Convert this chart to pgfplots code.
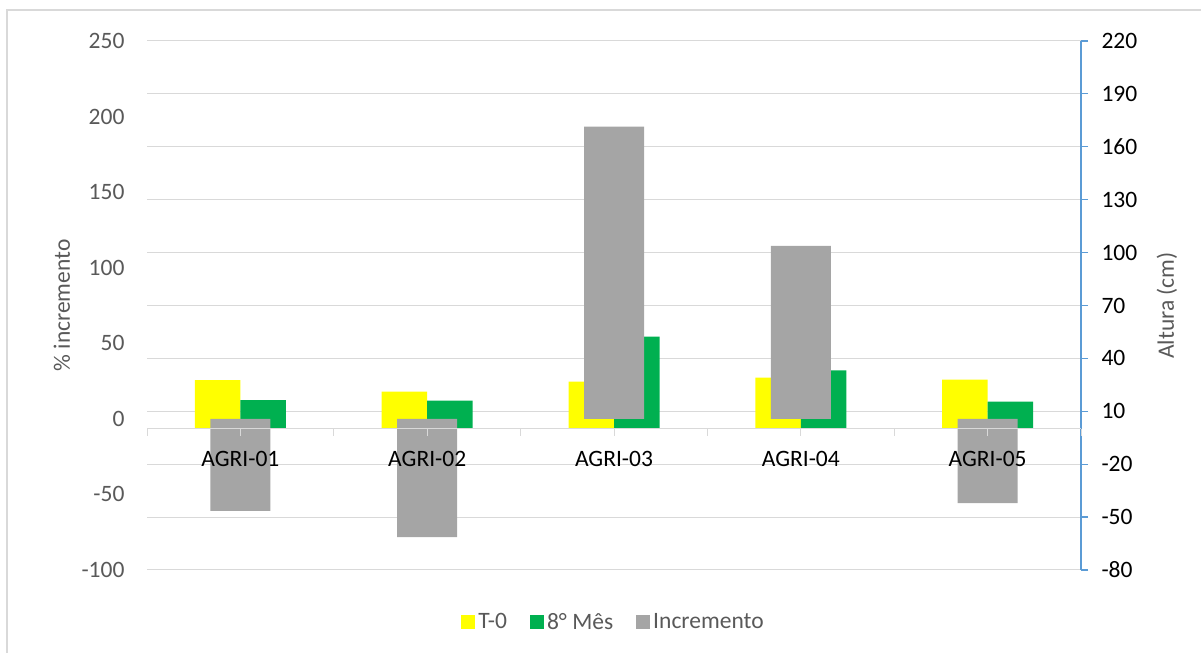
\documentclass[border=0pt]{standalone}
\usepackage{fontspec}
\setmainfont{Carlito}
\usepackage{pgfplots}
\pgfplotsset{compat=1.18}

\definecolor{tyellow}{HTML}{FFFF00}
\definecolor{mgreen}{HTML}{00B050}
\definecolor{igray}{HTML}{A5A5A5}
\definecolor{gridc}{HTML}{D9D9D9}
\definecolor{txtc}{HTML}{595959}
\definecolor{axblue}{HTML}{5B9BD5}

\newcommand{\cf}{\fontsize{23.5bp}{28bp}\selectfont}

\pgfplotsset{
  base/.style={
    scale only axis, width=934bp, height=529bp,
    at={(147bp,83bp)}, anchor=south west,
    xmin=-0.5, xmax=4.5,
    xtick=\empty,
    font=\cf,
    /pgf/number format/assume math mode=true,
  },
}

\begin{document}
\begin{tikzpicture}[font=\cf]
\useasboundingbox (0,0) rectangle (1201bp,653bp);
\draw[gridc, line width=1.3bp] (7bp,0) -- (7bp,643bp) -- (1201bp,643bp);

% secondary axis: Altura (cm), T-0 and 8 Mes
\begin{axis}[base,
  ymin=-80, ymax=220, ytick={-80,-50,...,220},
  axis x line=none,
  axis y line*=right,
  y axis line style={draw=axblue, line width=1.2bp, -},
  ytick style={draw=axblue, line width=1.2bp},
  tick align=outside, major tick length=7bp,
  yticklabel style={text=black, xshift=10bp},
  ymajorgrids, grid style={draw=gridc, line width=1bp},
  ylabel={Altura (cm)},
  ylabel style={text=txtc, at={(rel axis cs:1,0.5)}, anchor=center, yshift=-86bp},
  ybar, bar width=45.5bp,
]
\addplot[fill=tyellow, draw=none, bar shift=-22.75bp] coordinates
  {(0,27.7) (1,21.2) (2,26.8) (3,29.1) (4,28.0)};
\addplot[fill=mgreen, draw=none, bar shift=22.75bp] coordinates
  {(0,16.4) (1,16.0) (2,52.3) (3,33.2) (4,15.5)};
\end{axis}

% primary axis: % incremento
\begin{axis}[base,
  ymin=-100, ymax=250, ytick={-100,-50,...,250},
  axis x line=none,
  axis y line*=left,
  y axis line style={draw=none},
  major tick length=0pt,
  yticklabel style={text=txtc, xshift=-19bp},
  ylabel={\% incremento},
  ylabel style={text=txtc, at={(rel axis cs:0,0.5)}, anchor=center, yshift=85bp},
  ybar, bar width=60bp,
  legend columns=-1,
  legend style={draw=none, fill=none, at={(0.5,0)}, anchor=center, yshift=-52bp,
    font=\cf, text=txtc,
    /tikz/every even column/.append style={column sep=20bp},
    nodes={inner xsep=3bp}},
  legend image code/.code={\fill[#1] (0bp,-7bp) rectangle (14bp,7bp);},
]
\addlegendimage{fill=tyellow, draw=none}
\addlegendimage{fill=mgreen, draw=none}
\addplot[fill=igray, draw=none, bar shift=0pt] coordinates
  {(0,-60.9) (1,-78.2) (2,193.3) (3,114.4) (4,-55.7)};
\legend{T-0, 8° Mês, Incremento}
\end{axis}

% category axis, on top
\begin{axis}[
  scale only axis, width=934bp, height=10bp,
  at={(147bp,224bp)}, anchor=south west,
  xmin=-0.5, xmax=4.5, ymin=0, ymax=1,
  font=\cf,
  axis x line*=bottom, axis y line=none,
  x axis line style={draw=gridc, line width=1bp, -},
  tick align=outside, major tick length=7bp,
  xtick={-0.5,0.5,...,4.5}, xticklabels={,,,,,},
  xtick style={draw=gridc, line width=1bp},
  extra x ticks={0,1,2,3,4},
  extra x tick labels={AGRI-01,AGRI-02,AGRI-03,AGRI-04,AGRI-05},
  extra x tick style={tick style={draw=none}, xticklabel style={text=black, yshift=-12bp}},
]
\end{axis}
\end{tikzpicture}
\end{document}
